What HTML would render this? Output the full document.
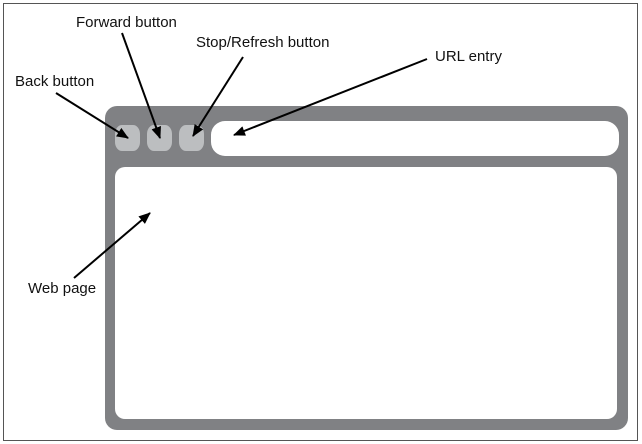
<!DOCTYPE html>
<html><head><meta charset="utf-8"><style>
html,body{margin:0;padding:0;background:#fff;}
svg{display:block;}
text{font-family:"Liberation Sans",sans-serif;font-size:15px;fill:#111;}
</style></head><body>
<svg width="642" height="444" viewBox="0 0 642 444" xmlns="http://www.w3.org/2000/svg">
<defs>
<marker id="ah" viewBox="0 0 12 10" refX="11" refY="5" markerWidth="12" markerHeight="10" markerUnits="userSpaceOnUse" orient="auto">
<path d="M0,0 L12,5 L0,10 Z" fill="#000"/>
</marker>
</defs>
<rect x="3.5" y="3.5" width="634" height="437" fill="#fff" stroke="#555" stroke-width="1"/>
<rect x="105" y="106" width="523" height="324" rx="12" ry="12" fill="#808184"/>
<rect x="115" y="167" width="502" height="252" rx="10" ry="10" fill="#fff"/>
<rect x="211" y="121" width="408" height="35" rx="14" ry="14" fill="#fff"/>
<rect x="115" y="125" width="25" height="26" rx="7" ry="9" fill="#bcbec0"/>
<rect x="147" y="125" width="25" height="26" rx="7" ry="9" fill="#bcbec0"/>
<rect x="179" y="125" width="25" height="26" rx="7" ry="9" fill="#bcbec0"/>
<g stroke="#000" stroke-width="2" fill="none" marker-end="url(#ah)">
<line x1="56" y1="93" x2="128" y2="138"/>
<line x1="122" y1="33" x2="160" y2="138"/>
<line x1="243" y1="57" x2="193" y2="136"/>
<line x1="427" y1="59" x2="234" y2="135"/>
<line x1="74" y1="278" x2="150" y2="213"/>
</g>
<text x="15" y="86">Back button</text>
<text x="76" y="27">Forward button</text>
<text x="196" y="47">Stop/Refresh button</text>
<text x="435" y="61">URL entry</text>
<text x="28" y="293">Web page</text>
</svg>
</body></html>
